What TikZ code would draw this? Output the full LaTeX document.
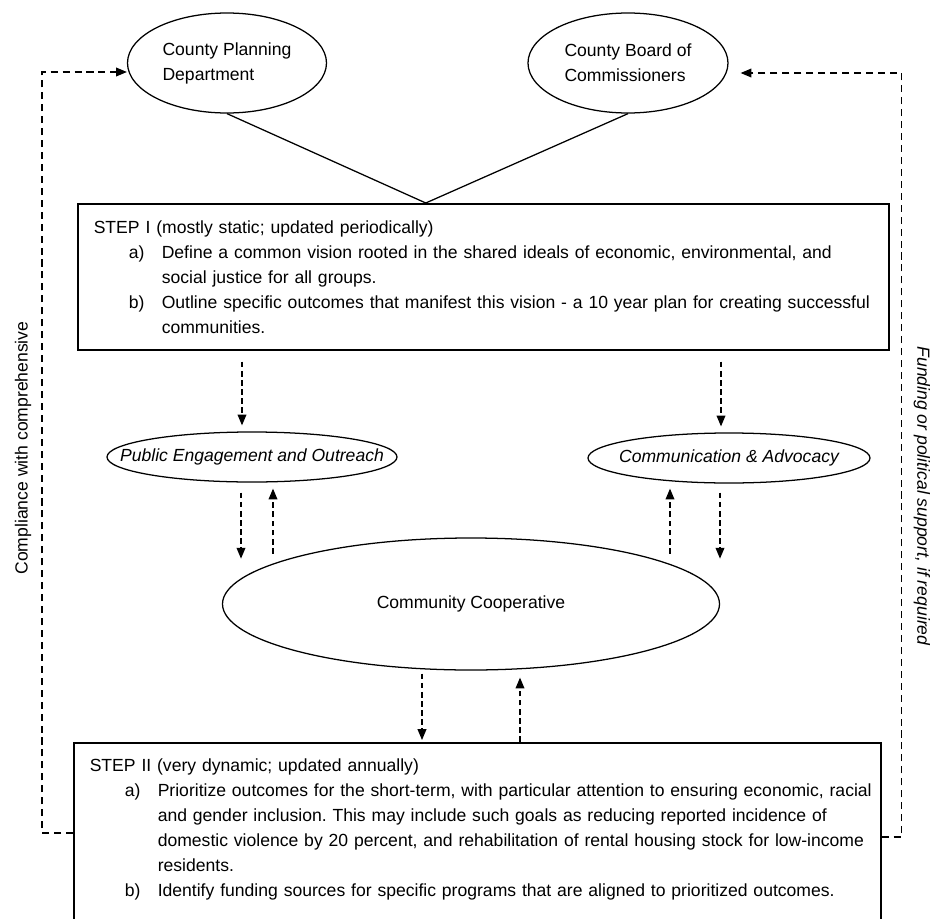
\documentclass[tikz,border=0pt]{standalone}
\usepackage{fontspec}
\setmainfont{Liberation Sans}
\usetikzlibrary{arrows.meta,shapes.geometric}
\frenchspacing

\newcommand{\stepitem}[2]{\mbox{\makebox[1.7cm][l]{\hspace*{0.875cm}#1}#2}}
\newcommand{\stepmore}[1]{\mbox{\hspace*{1.7cm}#1}}

\begin{document}
\begin{tikzpicture}[>={Triangle[length=0.27cm,width=0.22cm]},
        font=\fontsize{12.5}{17.8}\selectfont,
        oval/.style={draw,ellipse,line width=0.9pt,inner sep=0pt},
        stepbox/.style={draw,rectangle,line width=1.1pt,align=left,anchor=north west,inner xsep=0.4cm},
        flow/.style={->,line width=0.8pt,dash pattern=on 4pt off 2.5pt},
        loopline/.style={->,line width=0.8pt,dash pattern=on 5pt off 3.5pt}]
        \useasboundingbox (0,0) rectangle (23.375,-22.975);
        \clip (0,0) rectangle (23.375,-22.975);
        % county bodies
        \node [oval,minimum width=4.975cm,minimum height=2.5cm,align=left] (plan) at (5.675,-1.575) {County Planning\\Department};
        \node [oval,minimum width=5cm,minimum height=2.5cm,align=left] (board) at (15.7,-1.575) {County Board of\\Commissioners};
        % the two steps
        \node [stepbox,text width=19.475cm,minimum height=3.65cm,inner ysep=0.3cm] (stepone) at (1.925,-5.075) {STEP I (mostly static; updated periodically)\\
            \stepitem{a)}{Define a common vision rooted in the shared ideals of economic, environmental, and}\\
            \stepmore{social justice for all groups.}\\
            \stepitem{b)}{Outline specific outcomes that manifest this vision - a 10 year plan for creating successful}\\
            \stepmore{communities.}};
        \node [stepbox,text width=19.375cm,inner ysep=0.4cm,text depth=4.5cm] (steptwo) at (1.825,-18.55) {STEP II (very dynamic; updated annually)\\
            \stepitem{a)}{Prioritize outcomes for the short-term, with particular attention to ensuring economic, racial}\\
            \stepmore{and gender inclusion. This may include such goals as reducing reported incidence of}\\
            \stepmore{domestic violence by 20 percent, and rehabilitation of rental housing stock for low-income}\\
            \stepmore{residents.}\\
            \stepitem{b)}{Identify funding sources for specific programs that are aligned to prioritized outcomes.}};
        % middle ovals
        \node [oval,minimum width=7.25cm,minimum height=1.25cm] (pub) at (6.3,-11.425) {\makebox[0pt]{\itshape Public Engagement and Outreach}};
        \node [oval,minimum width=7.05cm,minimum height=1.25cm] (comm) at (18.225,-11.45) {\makebox[0pt]{\itshape Communication \& Advocacy}};
        \node [oval,minimum width=12.425cm,minimum height=3.3cm] (coop) at (11.775,-15.1) {Community Cooperative};
        \coordinate (apex) at ([xshift=-1.4375cm]stepone.north);
        \draw [line width=0.9pt] (plan.south) -- (apex) -- (board.south);
        % flows between step I, ovals and step II
        \draw [flow,shorten <=0.28cm,shorten >=0.15cm] ([xshift=-0.25cm]pub.north |- stepone.south) -- ([xshift=-0.25cm]pub.north);
        \draw [flow,shorten <=0.28cm,shorten >=0.15cm] ([xshift=-0.2cm]comm.north |- stepone.south) -- ([xshift=-0.2cm]comm.north);
        \draw [flow] ([xshift=-0.275cm,yshift=-0.25cm]pub.south) -- ++(0,-1.65);
        \draw [flow] ([xshift=0.525cm,yshift=-1.775cm]pub.south) -- ([xshift=0.525cm,yshift=-0.15cm]pub.south);
        \draw [flow] ([xshift=-1.475cm,yshift=-1.75cm]comm.south) -- ([xshift=-1.475cm,yshift=-0.125cm]comm.south);
        \draw [flow] ([xshift=-0.225cm,yshift=-0.225cm]comm.south) -- ++(0,-1.65);
        \draw [flow,shorten >=0.05cm] ([xshift=-1.225cm,yshift=-0.075cm]coop.south) -- ([xshift=-1.225cm]coop.south |- steptwo.north);
        \draw [flow] ([xshift=1.225cm]coop.south |- steptwo.north) -- ([xshift=1.225cm,yshift=-0.175cm]coop.south);
        % feedback loops
        \draw [loopline] ([yshift=-2.275cm]steptwo.north west) -- ++(-0.775,0) |- ([yshift=-0.225cm]plan.west);
        \draw [loopline] ([yshift=-2.375cm]steptwo.north east) -- ++(0.5,0) |- ([xshift=0.3cm,yshift=-0.25cm]board.east);
        \node [rotate=90] (compliance) at (0.575,-11.2) {Compliance with comprehensive};
        \node [rotate=-90] (funding) at (23.05,-12.4) {\itshape Funding or political support, if required};
\end{tikzpicture}
\end{document}
